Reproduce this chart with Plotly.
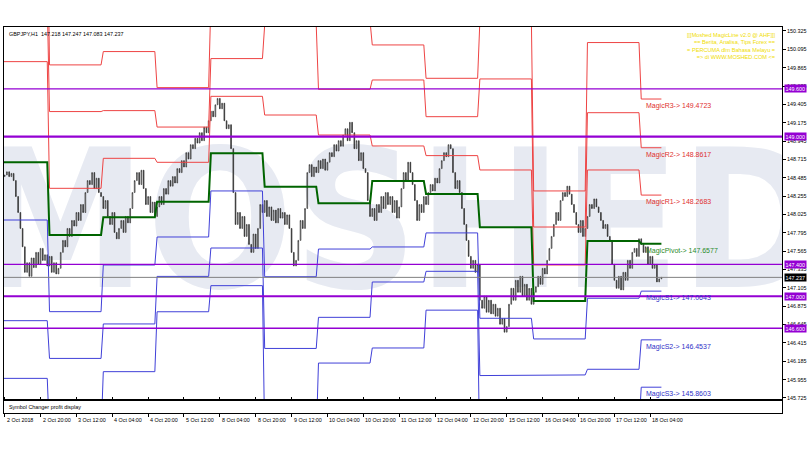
import plotly.graph_objects as go

# ---------------- data ----------------
symbol_text = "GBPJPY,H1  147.218 147.247 147.083 147.237"
info_lines = ["[[[Moshed MagicLine v2.0 @ AHF]]]",
              "== Berita, Analisa, Tips Forex ==",
              "= PERCUMA dlm Bahasa Melayu =",
              "=> di WWW.MOSHED.COM <="]

x_tick_idx = [0, 16, 32, 48, 64, 80, 96, 112, 128, 144, 160, 176, 192, 208, 224, 240, 256, 272, 288]
x_tick_text = ["2 Oct 2018", "2 Oct 20:00", "3 Oct 12:00", "4 Oct 04:00", "4 Oct 20:00",
               "5 Oct 12:00", "8 Oct 04:00", "8 Oct 20:00", "9 Oct 12:00", "10 Oct 04:00",
               "10 Oct 20:00", "11 Oct 12:00", "12 Oct 04:00", "12 Oct 20:00", "15 Oct 12:00",
               "16 Oct 04:00", "16 Oct 20:00", "17 Oct 12:00", "18 Oct 04:00"]

y_tick_vals = [150.325, 150.095, 149.865, 149.635, 149.405, 149.175, 148.945, 148.715,
               148.485, 148.255, 148.025, 147.795, 147.565, 147.335, 147.105, 146.875,
               146.645, 146.415, 146.185, 145.955, 145.725]

first_open = 148.50
closes = [
    148.52, 148.56, 148.50, 148.54, 148.45,
    148.25, 148.05, 147.85, 147.62, 147.30, 147.42, 147.25,
    147.48, 147.36, 147.55, 147.40, 147.60, 147.45, 147.52, 147.38,
    147.50, 147.30, 147.42, 147.28, 147.35,
    147.55, 147.70, 147.62, 147.85,
    147.75, 147.95, 147.88, 148.05, 147.95, 148.15, 148.05, 148.30, 148.45,
    148.40, 148.55, 148.35, 148.48, 148.30, 148.25,
    148.10, 148.20, 148.00, 147.90, 148.05, 147.80, 147.72,
    147.85, 147.95, 147.80, 148.00, 147.92, 148.10,
    148.30, 148.45, 148.55, 148.40, 148.58, 148.35,
    148.15, 148.25, 148.05, 148.18, 148.00, 148.12,
    148.25, 148.15, 148.35, 148.28, 148.45, 148.38, 148.50, 148.42, 148.60,
    148.55, 148.70, 148.62, 148.80, 148.72, 148.90, 148.85, 148.98, 148.92, 149.05, 148.95, 149.12, 149.05,
    149.20, 149.32, 149.25, 149.40, 149.48,
    149.35, 149.42, 149.20, 149.10, 149.15,
    148.85, 148.30, 147.90,
    148.05, 147.85, 148.00, 147.75, 147.90, 147.65, 147.55, 147.78, 147.60, 147.85,
    148.15, 148.05, 148.20, 148.00, 148.12, 147.95, 148.08, 147.92, 148.10, 147.98, 148.05, 147.90, 148.02, 147.85,
    147.55, 147.38, 147.45,
    147.70, 147.95, 147.85, 148.10,
    148.55, 148.65, 148.50, 148.62,
    148.55, 148.70, 148.60, 148.72, 148.58, 148.68, 148.80,
    148.75, 148.90, 148.82, 148.95, 148.88, 149.02, 149.10, 148.95, 149.18, 149.05,
    148.85, 148.95, 148.70, 148.80, 148.60, 148.55,
    148.20, 148.00,
    148.10, 147.95, 148.15, 148.05, 148.25, 148.10,
    148.30, 148.15, 148.25, 148.05, 148.20, 147.98, 148.12,
    148.35, 148.55, 148.45, 148.68, 148.55, 148.40,
    148.20, 147.95, 148.15, 148.05, 148.25, 148.15,
    148.30, 148.40, 148.32, 148.48, 148.42, 148.60,
    148.70, 148.80, 148.75, 148.90, 148.85,
    148.55, 148.35, 148.45, 148.30,
    148.10, 147.90, 147.70,
    147.50, 147.35, 147.45, 147.30, 147.40,
    146.95, 146.85, 147.00, 146.80, 146.95, 146.78, 146.90,
    146.75, 146.85, 146.65, 146.72, 146.55, 146.62,
    146.90, 147.10, 146.95, 147.20, 147.05, 147.25, 147.00,
    147.15, 146.95, 147.10, 146.90, 147.05, 147.12,
    147.25, 147.15, 147.35, 147.28, 147.45, 147.60,
    147.75, 147.90, 148.05, 147.95, 148.20, 148.30,
    148.25, 148.38, 148.28, 148.15, 148.05,
    147.90, 147.80, 147.95, 147.75, 147.85,
    148.00, 148.15, 148.10, 148.22, 148.12,
    148.05, 147.95, 147.85, 147.90, 147.75, 147.70,
    147.40, 147.20, 147.10, 147.25, 147.08,
    147.30, 147.20, 147.45, 147.35, 147.55,
    147.60, 147.50, 147.72, 147.65,
    147.55, 147.62, 147.40, 147.50, 147.35,
    147.40, 147.18, 147.218, 147.237,
]

# daily pivot levels; day start bar index (bar 0 = 2 Oct 04:00)
day_start = [-4, 20, 44, 68, 92, 116, 140, 164, 188, 212, 236, 260, 284]
pivot = [148.679, 147.768, 147.990, 148.185, 148.792, 148.373, 148.165, 148.445, 148.282, 147.865, 146.941, 147.693, 147.6577]
r1 = [149.941, 148.353, 148.729, 148.679, 149.506, 149.272, 149.021, 148.884, 148.763, 148.583, 147.392, 148.583, 148.2683]
r2 = [150.664, 149.315, 149.327, 149.121, 149.979, 150.400, 149.594, 149.711, 149.251, 149.724, 147.868, 149.301, 148.8617]
r3 = [151.926, 149.900, 150.067, 149.615, 150.693, 151.299, 150.450, 150.150, 149.732, 150.442, 148.320, 150.180, 149.4723]
s1 = [147.956, 146.807, 147.392, 147.743, 148.320, 147.245, 147.592, 147.618, 147.794, 146.724, 146.465, 146.975, 147.0643]
s2 = [146.694, 146.221, 146.653, 147.249, 147.605, 146.346, 146.736, 147.179, 147.313, 146.006, 146.014, 146.085, 146.4537]
s3 = [145.971, 145.260, 146.055, 146.806, 147.133, 145.218, 146.163, 146.352, 146.826, 144.866, 145.537, 145.367, 145.8603]

round_levels = [149.600, 149.000, 147.400, 147.000, 146.600]
round_widths = [1.4, 2.2, 1.4, 2.2, 1.4]
bid = 147.237

# ---------------- build ----------------
PURPLE = "#9400D3"
RED = "#ee4444"
BLUE = "#4040d8"
GREEN = "#006400"
FONT = "Liberation Sans"
YRANGE = [145.7125, 150.375]

n = len(closes)
bars = list(range(n))
opens = [first_open] + closes[:-1]
highs = [max(o, c) for o, c in zip(opens, closes)]
lows = [min(o, c) for o, c in zip(opens, closes)]


def step_xy(levels):
    xs, ys = [], []
    for i, lev in enumerate(levels):
        s = day_start[i]
        e = day_start[i + 1] - 1 if i + 1 < len(day_start) else n - 1
        xs += [s, e]
        ys += [lev, lev]
    return xs, ys


fig = go.Figure()

# watermark on the base subplot (drawn underneath the overlay subplot)
fig.add_trace(go.Scatter(x=[176], y=[147.72], mode="text", text=["MOSHED"],
                         textfont=dict(size=192, color="#e7eaf2", weight="bold",
                                       family="Liberation Sans Narrow, DejaVu Sans Condensed"),
                         hoverinfo="skip"))

# price candles on an overlay axis so they sit above the watermark
fig.add_trace(go.Candlestick(x=bars, open=opens, high=highs, low=lows, close=closes, yaxis="y3",
                             increasing=dict(line=dict(color="#303030", width=0.7), fillcolor="#d8d8d8"),
                             decreasing=dict(line=dict(color="#303030", width=0.7), fillcolor="#303030"),
                             whiskerwidth=0, hoverinfo="skip"))

for lev, col, w in [(r3, RED, 1), (r2, RED, 1), (r1, RED, 1),
                    (s1, BLUE, 1), (s2, BLUE, 1), (s3, BLUE, 1), (pivot, GREEN, 2)]:
    xs, ys = step_xy(lev)
    fig.add_trace(go.Scatter(x=xs, y=ys, yaxis="y3", mode="lines",
                             line=dict(color=col, width=w), hoverinfo="skip"))

# dummy trace for the lower panel
fig.add_trace(go.Scatter(x=[0], y=[0.5], yaxis="y2", mode="markers",
                         marker=dict(opacity=0), hoverinfo="skip"))

shapes = []
for lev, w in zip(round_levels, round_widths):
    shapes.append(dict(type="line", xref="paper", x0=0, x1=1, yref="y", y0=lev, y1=lev,
                       line=dict(color=PURPLE, width=w)))
shapes.append(dict(type="line", xref="paper", x0=0, x1=1, yref="y", y0=bid, y1=bid,
                   line=dict(color="#808080", width=1)))

ann = []
for xi, t in zip(x_tick_idx, x_tick_text):
    ann.append(dict(x=xi, xref="x", y=0, yref="paper", yanchor="top", xanchor="left",
                    yshift=-2, xshift=0, text=t, showarrow=False,
                    font=dict(size=5.4, color="#000000", family=FONT)))
for lev in round_levels:
    ann.append(dict(x=1, xref="paper", xanchor="left", xshift=2, y=lev, yref="y",
                    text=f"{lev:.3f}", showarrow=False, bgcolor=PURPLE, borderpad=0.5,
                    font=dict(size=5.4, color="#ffffff", family=FONT)))
ann.append(dict(x=1, xref="paper", xanchor="left", xshift=2, y=bid, yref="y",
                text=f"{bid:.3f}", showarrow=False, bgcolor="#000000", borderpad=0.5,
                font=dict(size=5.4, color="#ffffff", family=FONT)))
last = day_start[-1]
for name, lev, col in [("MagicR3", r3[-1], "#e03030"), ("MagicR2", r2[-1], "#e03030"),
                       ("MagicR1", r1[-1], "#e03030"), ("MagicPivot", pivot[-1], "#2a8a2a"),
                       ("MagicS1", s1[-1], "#3030c8"), ("MagicS2", s2[-1], "#3030c8"),
                       ("MagicS3", s3[-1], "#3030c8")]:
    ann.append(dict(x=last, xref="x", xanchor="left", xshift=3, y=lev, yref="y",
                    yanchor="top", yshift=-1, text=f"{name}-> {lev:.4f}", showarrow=False,
                    font=dict(size=7, color=col, family=FONT)))
ann.append(dict(x=0, xref="paper", xanchor="left", xshift=3, y=1, yref="paper", yanchor="top",
                yshift=-2, text=symbol_text, showarrow=False,
                font=dict(size=5.4, color="#000000", family=FONT)))
ann.append(dict(x=1, xref="paper", xanchor="right", xshift=-4, y=1, yref="paper", yanchor="top",
                yshift=-3, text="<br>".join(info_lines), showarrow=False, align="right",
                font=dict(size=5.6, color="#f0dc00", family=FONT)))
ann.append(dict(x=0, xref="paper", xanchor="left", xshift=3, y=0.5, yref="y2 domain",
                yanchor="middle", text="Symbol Changer profit display", showarrow=False,
                font=dict(size=5.4, color="#000000", family=FONT)))

fig.update_layout(
    width=810, height=450,
    margin=dict(l=3, r=25, t=27, b=37),
    paper_bgcolor="#ffffff", plot_bgcolor="#ffffff",
    showlegend=False, boxgap=0.55,
    shapes=shapes, annotations=ann,
    xaxis=dict(range=[-0.3, 346.8], anchor="y2", showline=True, linecolor="#000000",
               linewidth=1, mirror="all", ticks="outside", ticklen=3, tickcolor="#000000",
               tickvals=x_tick_idx, showticklabels=False, showgrid=False, zeroline=False,
               rangeslider=dict(visible=False)),
    yaxis=dict(domain=[0.0363, 1], range=YRANGE, side="right", anchor="x",
               showline=True, mirror=True, linecolor="#000000", ticks="outside", ticklen=3,
               tickcolor="#000000", tickvals=y_tick_vals,
               ticktext=[f"{v:.3f}" for v in y_tick_vals],
               tickfont=dict(size=5.4, color="#000000", family=FONT),
               showgrid=False, zeroline=False),
    yaxis2=dict(domain=[0, 0.0311], range=[0, 1], anchor="x", showline=True, mirror=True,
                linecolor="#000000", showticklabels=False, ticks="", showgrid=False,
                zeroline=False),
    yaxis3=dict(overlaying="y", range=YRANGE, anchor="x", visible=False,
                showgrid=False, zeroline=False),
)

fig.write_html("out.html", config={"displayModeBar": False},
               post_script="document.body.style.margin='0px';")
